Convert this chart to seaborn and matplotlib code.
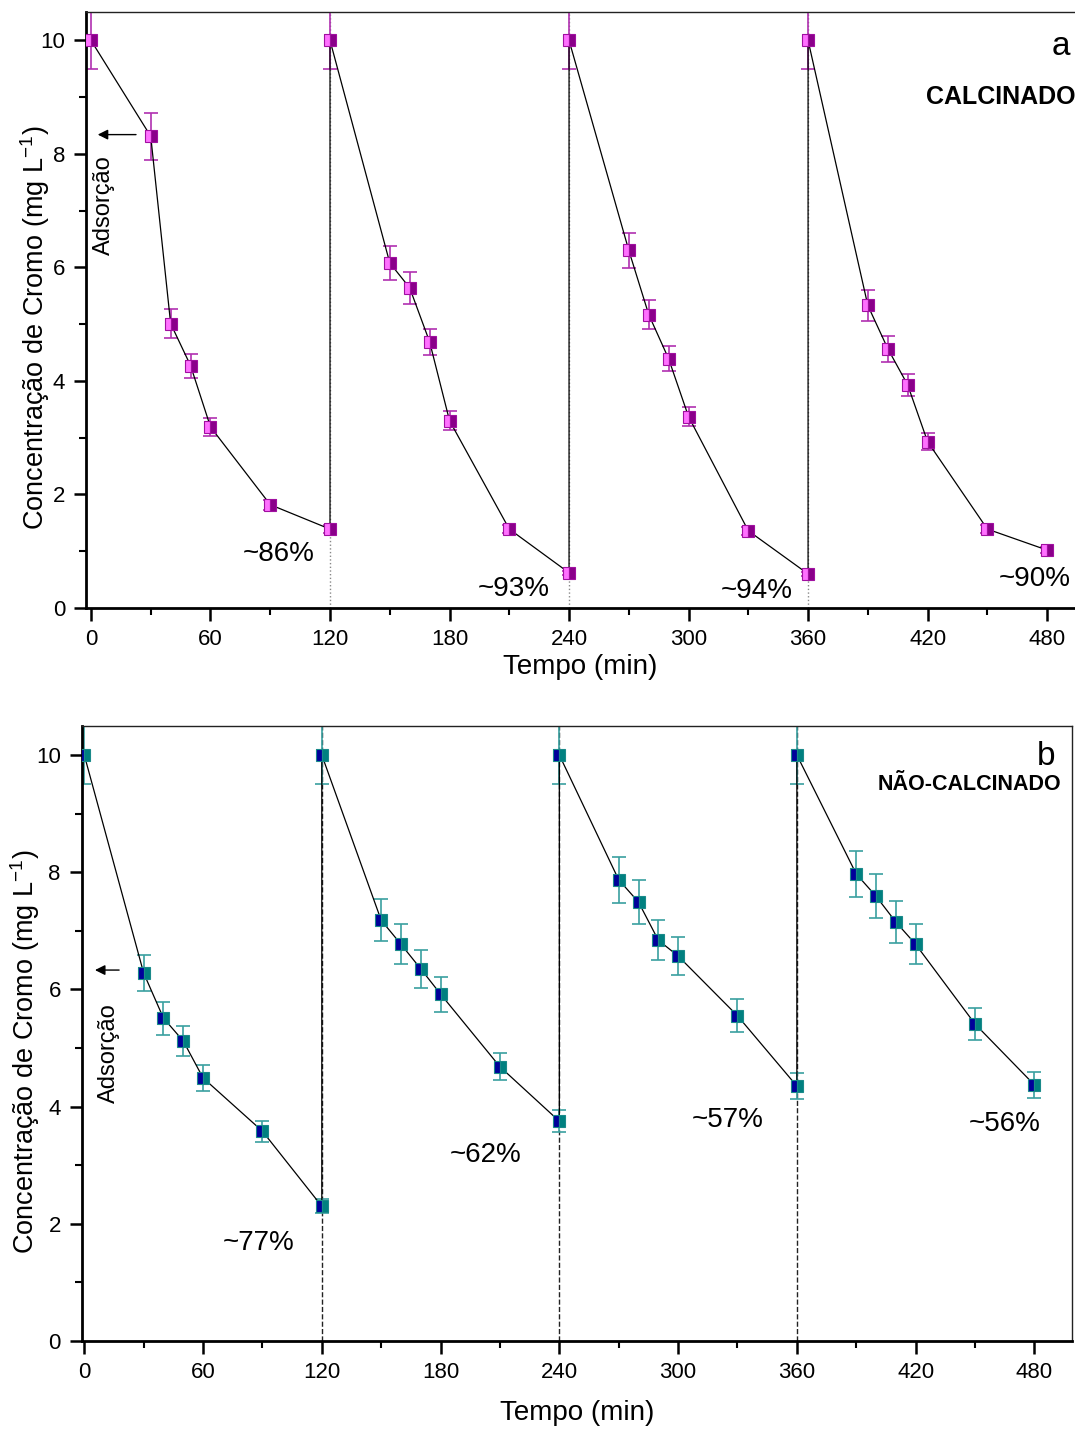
import matplotlib
matplotlib.use("Agg")
import matplotlib.pyplot as plt
from matplotlib.ticker import MultipleLocator
import seaborn as sns
import pandas as pd

# ---------------- data ----------------
time_min = [0, 30, 40, 50, 60, 90, 120,
            120, 150, 160, 170, 180, 210, 240,
            240, 270, 280, 290, 300, 330, 360,
            360, 390, 400, 410, 420, 450, 480]

conc_calc = [10, 8.31, 5.01, 4.27, 3.19, 1.82, 1.39,
             10, 6.08, 5.64, 4.69, 3.30, 1.39, 0.62,
             10, 6.30, 5.17, 4.39, 3.37, 1.36, 0.60,
             10, 5.33, 4.57, 3.93, 2.93, 1.39, 1.02]
err_calc = [0.5, 0.41, 0.25, 0.21, 0.16, 0.09, 0.07,
            0.5, 0.30, 0.28, 0.23, 0.17, 0.07, 0.03,
            0.5, 0.31, 0.26, 0.22, 0.17, 0.07, 0.03,
            0.5, 0.27, 0.23, 0.20, 0.15, 0.07, 0.05]

conc_nao = [10, 6.28, 5.51, 5.12, 4.49, 3.58, 2.30,
            10, 7.18, 6.77, 6.35, 5.92, 4.68, 3.75,
            10, 7.87, 7.49, 6.84, 6.57, 5.55, 4.35,
            10, 7.97, 7.59, 7.15, 6.77, 5.41, 4.37]
err_nao = [0.5, 0.31, 0.28, 0.26, 0.22, 0.18, 0.12,
           0.5, 0.36, 0.34, 0.32, 0.30, 0.23, 0.19,
           0.5, 0.39, 0.37, 0.34, 0.33, 0.28, 0.22,
           0.5, 0.40, 0.38, 0.36, 0.34, 0.27, 0.22]

cycle_starts = [120, 240, 360]

pct_calc = ["~86%", "~93%", "~94%", "~90%"]
pct_calc_pos = [(94, 0.95), (212, 0.34), (334, 0.30), (474, 0.51)]
pct_nao = ["~77%", "~62%", "~57%", "~56%"]
pct_nao_pos = [(88, 1.67), (203, 3.17), (325, 3.77), (465, 3.70)]

xticks = [0, 60, 120, 180, 240, 300, 360, 420, 480]
yticks = [0, 2, 4, 6, 8, 10]

# ---------------- style ----------------
sns.set_style("ticks")
plt.rcParams['font.family'] = ['Liberation Sans', 'DejaVu Sans']
plt.rcParams['mathtext.fontset'] = 'custom'
plt.rcParams['mathtext.rm'] = 'Liberation Sans'
plt.rcParams['text.color'] = 'black'
plt.rcParams['axes.labelcolor'] = 'black'
plt.rcParams['xtick.color'] = 'black'
plt.rcParams['ytick.color'] = 'black'
plt.rcParams['xtick.labelcolor'] = 'black'
plt.rcParams['ytick.labelcolor'] = 'black'

W, H = 1075, 1432
fig = plt.figure(figsize=(W / 100, H / 100), dpi=100)

def px_axes(left, right, top, bottom):
    return [left / W, 1 - bottom / H, (right - left) / W, (bottom - top) / H]

ax_a = fig.add_axes(px_axes(86, 1075, 12, 608))
ax_b = fig.add_axes(px_axes(81.7, 1072, 725.7, 1341))

df_a = pd.DataFrame({"t": time_min, "c": conc_calc, "e": err_calc})
df_b = pd.DataFrame({"t": time_min, "c": conc_nao, "e": err_nao})

panels = [
    (ax_a, df_a, dict(fc="#ff70ff", fca="#8a008a", ec="#a010a0", err="#b030b0",
                      vls=":", vcol="#888888", xlim=(-2.5, 494),
                      ylab=(-0.0344, 0.47), xlab=(0.5, -0.077)),
     "a", "CALCINADO", pct_calc, pct_calc_pos),
    (ax_b, df_b, dict(fc="#00009a", fca="#008080", ec="#1a8a8a", err="#3aa0a0",
                      vls="--", vcol="#222222", xlim=(-1.3, 499),
                      ylab=(-0.040, 0.47), xlab=(0.5, -0.096)),
     "b", "NÃO-CALCINADO", pct_nao, pct_nao_pos),
]

for ax, df, st, letter, title, pcts, ppos in panels:
    for xv in cycle_starts:
        ax.axvline(xv, color=st["vcol"], ls=st["vls"], lw=1.0, zorder=1)
    ax.errorbar(df["t"], df["c"], yerr=df["e"], fmt="none", ecolor=st["err"],
                elinewidth=1.2, capsize=5, capthick=1.2, zorder=2)
    sns.lineplot(data=df, x="t", y="c", estimator=None, sort=False, ax=ax,
                 color="black", lw=0.9, marker="s", markersize=9,
                 fillstyle="left", markerfacecolor=st["fc"],
                 markerfacecoloralt=st["fca"], markeredgecolor=st["ec"],
                 markeredgewidth=0.8, zorder=3)
    ax.set_xlim(*st["xlim"])
    ax.set_ylim(0, 10.5)
    ax.set_xticks(xticks)
    ax.set_yticks(yticks)
    ax.xaxis.set_minor_locator(MultipleLocator(30))
    ax.yaxis.set_minor_locator(MultipleLocator(1))
    ax.tick_params(axis="both", which="major", direction="out", length=9,
                   width=1.8, labelsize=16, color="black", labelcolor="black", pad=6)
    ax.tick_params(axis="both", which="minor", direction="out", length=5,
                   width=1.5, color="black")
    for s in ["left", "bottom"]:
        ax.spines[s].set_linewidth(2.0)
        ax.spines[s].set_color("black")
    ax.spines["top"].set_linewidth(1.0)
    ax.spines["top"].set_color("#222222")
    ax.spines["right"].set_linewidth(1.0)
    ax.spines["right"].set_color("#222222")
    ax.set_xlabel("Tempo (min)", fontsize=20, color="black")
    ax.set_ylabel("Concentração de Cromo (mg L$^{-1}$)", fontsize=19.5, color="black")
    ax.yaxis.set_label_coords(*st["ylab"])
    ax.xaxis.set_label_coords(*st["xlab"])
    for txt, (px, py) in zip(pcts, ppos):
        ax.text(px, py, txt, fontsize=20, ha="center", va="center", color="black")

ax_a.spines["right"].set_visible(False)

# panel labels
ax_a.text(487, 9.9, "a", fontsize=24, ha="center", va="center", color="black")
ax_a.text(419, 9.0, "CALCINADO", fontsize=18, fontweight="bold", ha="left", va="center", color="black")
ax_b.text(486, 9.98, "b", fontsize=24, ha="center", va="center", color="black")
ax_b.text(447, 9.5, "NÃO-CALCINADO", fontsize=15.5, fontweight="bold", ha="center", va="center", color="black")

# adsorption arrows and labels
ax_a.annotate("", xy=(2, 8.34), xytext=(24, 8.34),
              arrowprops=dict(arrowstyle="-|>", color="black", lw=1, mutation_scale=15))
ax_a.text(6.5, 7.09, "Adsorção", rotation=90, fontsize=17, ha="center", va="center", color="black")
ax_b.annotate("", xy=(4, 6.33), xytext=(19, 6.33),
              arrowprops=dict(arrowstyle="-|>", color="black", lw=1, mutation_scale=15))
ax_b.text(12.6, 4.91, "Adsorção", rotation=90, fontsize=17, ha="center", va="center", color="black")

fig.savefig("out.png", dpi=100, facecolor="white")
